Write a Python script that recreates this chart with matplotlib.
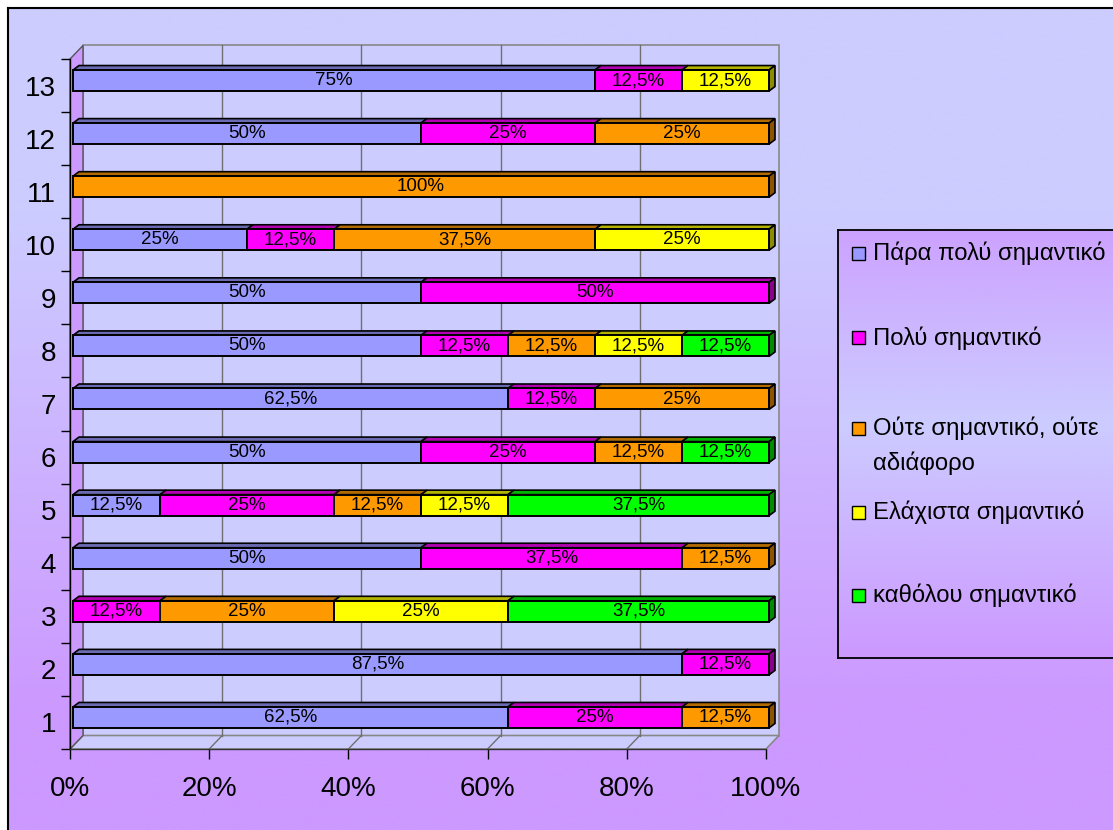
import matplotlib
matplotlib.use("Agg")
import matplotlib.pyplot as plt
import numpy as np
from matplotlib.colors import to_rgb
from matplotlib.patches import Polygon, Rectangle

plt.rcParams['font.family'] = ['Liberation Sans', 'DejaVu Sans']

questions = list(range(1, 14))
series_names = ['Πάρα πολύ σημαντικό', 'Πολύ σημαντικό', 'Ούτε σημαντικό, ούτε\nαδιάφορο',
                'Ελάχιστα σημαντικό', 'καθόλου σημαντικό']
para_poly = [62.5, 87.5, 0, 50, 12.5, 50, 62.5, 50, 50, 25, 0, 50, 75]
poly = [25, 12.5, 12.5, 37.5, 25, 25, 12.5, 12.5, 50, 12.5, 0, 25, 12.5]
oute = [12.5, 0, 25, 12.5, 12.5, 12.5, 25, 12.5, 0, 37.5, 100, 25, 0]
elaxista = [0, 0, 25, 0, 12.5, 0, 0, 12.5, 0, 25, 0, 0, 12.5]
katholou = [0, 0, 37.5, 0, 37.5, 12.5, 0, 12.5, 0, 0, 0, 0, 0]
series = [para_poly, poly, oute, elaxista, katholou]
colors = ['#9999FF', '#FF00FF', '#FF9900', '#FFFF00', '#00FF00']
x_ticks = [0, 20, 40, 60, 80, 100]


def shade(c, k):
    return tuple(v * k for v in to_rgb(c))


def pct(v):
    return f"{v:g}".replace('.', ',') + '%'


W, H = 1113, 830
fig = plt.figure(figsize=(W / 100, H / 100), dpi=100)

# background with the vertical gradient and the frame on top/left
bg = fig.add_axes([0, 0, 1, 1])
bg.axis('off')
bg.set_xlim(0, W)
bg.set_ylim(H, 0)
rows = np.linspace(0, 1, 256)
top, bottom = np.array(to_rgb('#CCCCFF')), np.array(to_rgb('#CC99FF'))
t = np.clip((rows - 0.25) / 0.6, 0, 1)[:, None]
grad = (top * (1 - t) + bottom * t)[:, None, :]
bg.imshow(grad, extent=(8, W, H, 8), aspect='auto', interpolation='bilinear')
bg.plot([8, 8], [8, H], color='black', lw=1.5)
bg.plot([8, W], [8, 8], color='black', lw=1.5)

# plot axes = front plane of the 3D box
x0, x1, yt, yb = 70, 766, 59, 749
ax = fig.add_axes([x0 / W, 1 - yb / H, (x1 - x0) / W, (yb - yt) / H])
ax.set_xlim(0, 100)
ax.set_ylim(0.5, 13.5)
ax.patch.set_visible(False)
px_x = (x1 - x0) / 100
px_y = (yb - yt) / 13

wall_dx, wall_dy = 13 / px_x, 13.5 / px_y
shift_x, shift_y = 3 / px_x, 5 / px_y
bar_h = 21 / px_y
face_dx, face_dy = 6 / px_x, 4.5 / px_y

# back wall, floor and side wall
ax.add_patch(Polygon([(wall_dx, 0.5 + wall_dy), (100 + wall_dx, 0.5 + wall_dy),
                      (100 + wall_dx, 13.5 + wall_dy), (wall_dx, 13.5 + wall_dy)],
                     fc='#CCCCFF', ec='#888888', lw=1.2, clip_on=False, zorder=0))
ax.add_patch(Polygon([(0, 0.5), (100, 0.5), (100 + wall_dx, 0.5 + wall_dy), (wall_dx, 0.5 + wall_dy)],
                     fc='#CCCCFF', ec='#888888', lw=1.2, clip_on=False, zorder=1))
ax.add_patch(Polygon([(0, 0.5), (0, 13.5), (wall_dx, 13.5 + wall_dy), (wall_dx, 0.5 + wall_dy)],
                     fc='#CC99FF', ec='#555555', lw=1, clip_on=False, zorder=1))
for v in x_ticks[1:-1]:
    ax.plot([v + wall_dx, v + wall_dx], [0.5 + wall_dy, 13.5 + wall_dy],
            color='#707070', lw=1, clip_on=False, zorder=2)
    ax.plot([v, v + wall_dx], [0.5, 0.5 + wall_dy], color='#707070', lw=1, clip_on=False, zorder=2)

# stacked bars with top and end faces
data = np.array(series, dtype=float)
lefts = np.vstack([np.zeros(len(questions)), np.cumsum(data, axis=0)[:-1]])
yc = np.array(questions) + shift_y
for j, (vals, c) in enumerate(zip(data, colors)):
    m = vals > 0
    ax.barh(yc[m], vals[m], left=lefts[j][m] + shift_x, height=bar_h, color=c,
            edgecolor='black', lw=1.4, zorder=5, clip_on=False)
    for q in np.where(m)[0]:
        l = lefts[j][q] + shift_x
        r = l + vals[q]
        ytop = yc[q] + bar_h / 2
        ax.add_patch(Polygon([(l, ytop), (r, ytop), (r + face_dx, ytop + face_dy), (l + face_dx, ytop + face_dy)],
                             fc=shade(c, 0.7), ec='black', lw=1.2, zorder=4, clip_on=False))
        if data[j + 1:, q].sum() == 0:
            ybot = yc[q] - bar_h / 2
            ax.add_patch(Polygon([(r, ybot), (r + face_dx, ybot + face_dy), (r + face_dx, ytop + face_dy), (r, ytop)],
                                 fc=shade(c, 0.55), ec='black', lw=1.2, zorder=4, clip_on=False))
        ax.text(l + vals[q] / 2, yc[q], pct(vals[q]), ha='center', va='center',
                fontsize=13.5, zorder=6)

ax.set_yticks(questions)
ax.set_yticklabels([str(q) for q in questions])
ax.set_yticks(np.arange(0.5, 14, 1), minor=True)
ax.tick_params(axis='y', which='major', length=0, pad=10, labelsize=20)
ax.tick_params(axis='y', which='minor', length=6.5, width=1, direction='out')
ax.set_xticks(x_ticks)
ax.set_xticklabels([f"{v}%" for v in x_ticks])
ax.tick_params(axis='x', length=7.2, width=1, direction='out', pad=12, labelsize=20)
for s in ('top', 'right'):
    ax.spines[s].set_visible(False)
ax.spines['left'].set_linewidth(1)
ax.spines['bottom'].set_linewidth(1)
ax.spines['bottom'].set_color('#333333')

# legend box
lg = fig.add_axes([838 / W, 1 - 658 / H, (W - 838) / W, (658 - 230) / H])
lg.set_xlim(838, W)
lg.set_ylim(658, 230)
lr = np.linspace(0, 1, 256)
lt = (1 - np.abs(lr - 0.45) / 0.55)[:, None]
lgrad = (bottom * (1 - lt) + top * lt)[:, None, :]
lg.imshow(lgrad, extent=(838, W, 658, 230), aspect='auto', interpolation='bilinear')
lg.set_xticks([])
lg.set_yticks([])
lg.spines['right'].set_visible(False)
for s in ('left', 'top', 'bottom'):
    lg.spines[s].set_linewidth(1.3)
entry_y = [253, 338, 428, 512, 595]
for name, c, y in zip(series_names, colors, entry_y):
    lg.add_patch(Rectangle((852, y - 6.5), 13, 13, fc=c, ec='black', lw=1))
    for k, line in enumerate(name.split('\n')):
        lg.text(873, y + 35 * k, line, ha='left', va='center', fontsize=17.2)

fig.savefig('out.png', dpi=100)
